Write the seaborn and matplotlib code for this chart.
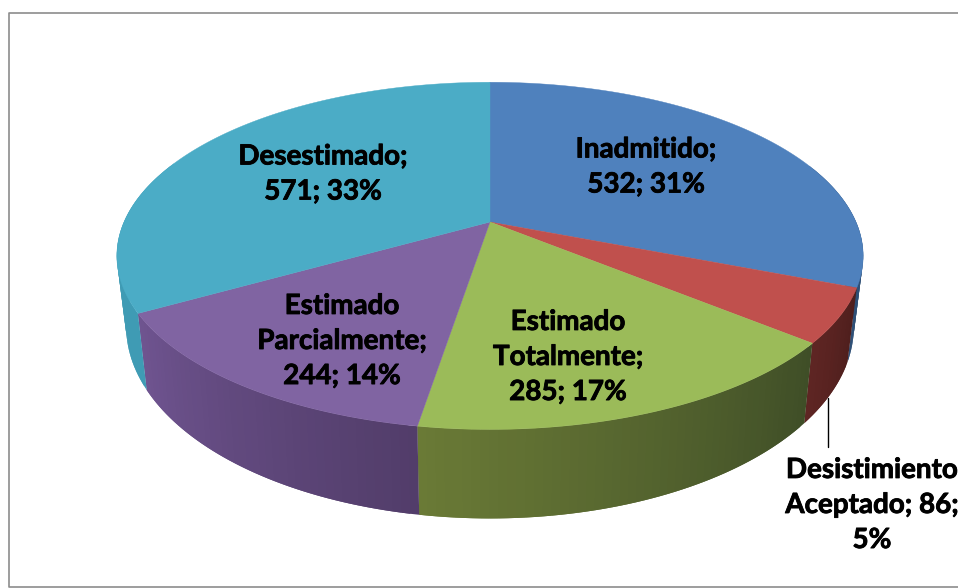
import numpy as np
import seaborn as sns
import matplotlib
matplotlib.use("Agg")
import matplotlib.pyplot as plt
import matplotlib.patheffects as pe

# clockwise from 12 o'clock
categories = ["Inadmitido", "Desistimiento Aceptado", "Estimado Totalmente",
              "Estimado Parcialmente", "Desestimado"]
values = [532, 86, 285, 244, 571]
percents = [31, 5, 17, 14, 33]
top_colors = ["#4F81BD", "#C0504D", "#9BBB59", "#8064A2", "#4BACC6"]
side_left = ["#2F5077", "#5E2523", "#6A7A36", "#6F5490", "#3F9BB4"]
side_right = ["#1F3654", "#4F1F1D", "#3F4E27", "#523D6A", "#3F9BB4"]
# how each label breaks over its lines
label_lines = [
    "{0};\n{1}; {2}%",
    "Desistimiento\nAceptado; {1};\n{2}%",
    "Estimado\nTotalmente;\n{1}; {2}%",
    "Estimado\nParcialmente;\n{1}; {2}%",
    "{0};\n{1}; {2}%",
]

sns.set_theme(style="white")
plt.rcParams['font.family'] = ['Lato', 'DejaVu Sans']

CX, CY = 490, 222


def top_xy(theta):
    # perspective of the top circle, theta clockwise from top
    u, v = np.sin(theta), np.cos(theta)
    s = 1 / (1 + 0.195 * v)
    return CX + 366 * u * s, CY - 167 * v * s


def bottom_xy(theta):
    x, y = top_xy(theta)
    return CX + 0.975 * (x - CX), CY + 67 + 1.106 * (y - CY)


fig = plt.figure(figsize=(9.58, 5.88), dpi=100)
ax = fig.add_axes([0, 0, 1, 1])
ax.set_xlim(0, 958)
ax.set_ylim(588, 0)
ax.axis("off")

edges = np.concatenate([[0], np.cumsum(values)]) / sum(values) * 2 * np.pi

# side wall first, strips overlap the next one so no seams show
for i in range(len(values)):
    t0, t1 = edges[i], edges[i + 1]
    n = max(int((t1 - t0) / 0.02), 2)
    ts = np.linspace(t0, t1, n + 1)
    shades = sns.blend_palette([side_left[i], side_right[i]], n)
    for j in range(n):
        mid = (ts[j] + ts[j + 1]) / 2
        if np.cos(mid) > 0.35:
            continue
        xt, yt = top_xy(ts[j:j + 3])
        xb, yb = bottom_xy(ts[j:j + 3])
        ax.fill(np.r_[xt, xb[::-1]], np.r_[yt, yb[::-1]],
                color=shades[n - 1 - j], lw=0, zorder=1)

# top surface
for i in range(len(values)):
    ts = np.linspace(edges[i], edges[i + 1], 120)
    x, y = top_xy(ts)
    ax.fill(np.r_[CX, x], np.r_[CY, y], color=top_colors[i], lw=0.3, zorder=2)

label_pos = [(646, 167), (872, 505), (568, 357), (342, 341), (323, 174)]
for i, cat in enumerate(categories):
    txt = label_lines[i].format(cat, values[i], percents[i])
    ax.text(label_pos[i][0], label_pos[i][1], txt, ha="center", va="center",
            fontsize=20, fontweight="bold", color="black", linespacing=1.43,
            zorder=4, path_effects=[pe.withStroke(linewidth=0.6, foreground="black")])

# leader line for the small slice
ax.plot([828.5, 828.5], [398, 447], color="black", lw=1, zorder=3)

# chart frame
ax.plot([958, 9.5, 9.5, 958], [12.5, 12.5, 587, 587], color="#8C8C8C", lw=1.2,
        zorder=0, clip_on=False)

fig.savefig("out.png", dpi=100)
